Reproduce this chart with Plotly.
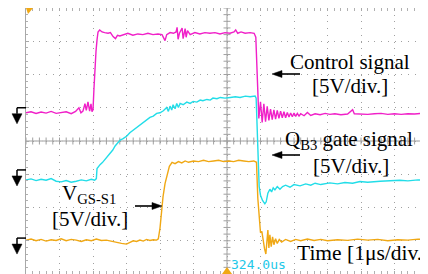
import numpy as np
import plotly.graph_objects as go

# ---------------- data (time in µs relative to trigger, signals in volts) ----------------
MAG_T = [-6.00, -5.85, -5.70, -5.55, -5.40, -5.25, -5.10, -4.95, -4.80, -4.65, -4.52, -4.42,
         -4.36, -4.30, -4.24, -4.20, -4.15, -4.10, -4.06, -4.03, -4.00, -3.97, -3.94, -3.91,
         -3.88, -3.85, -3.80, -3.73, -3.65, -3.55, -3.48, -3.40, -3.33, -3.27, -3.20, -3.10,
         -2.96, -2.81, -2.66, -2.51, -2.36, -2.21, -2.06, -1.94, -1.88, -1.85, -1.80, -1.70,
         -1.60, -1.52, -1.49, -1.46, -1.42, -1.38, -1.34, -1.31, -1.27, -1.25, -1.22, -1.18,
         -1.10, -0.96, -0.81, -0.66, -0.51, -0.36, -0.21, -0.06, 0.09, 0.21, 0.26, 0.32,
         0.42, 0.54, 0.69, 0.81, 0.86, 0.89, 0.92, 0.95, 1.00, 1.05, 1.10, 1.15, 1.20, 1.25,
         1.30, 1.35, 1.40, 1.45, 1.50, 1.55, 1.60, 1.65, 1.70, 1.75, 1.80, 1.85, 1.90, 1.95,
         2.00, 2.05, 2.10, 2.15, 2.20, 2.30, 2.40, 2.50, 2.63, 2.78, 2.93, 3.07, 3.22, 3.40,
         3.60, 3.75, 3.80, 4.00, 4.20, 4.40, 4.60, 4.80, 5.00, 5.20, 5.40, 5.60, 5.80, 6.00]
MAG_V = [-0.75, -0.60, -0.85, -0.65, -0.80, -0.55, -0.85, -0.70, -0.60, -0.90, -0.55, 0.00,
         -0.75, -0.50, 0.60, -0.40, 0.90, -0.50, 0.60, -0.60, -0.30, 3.00, 6.50, 8.50,
         10.2, 11.4, 11.7, 11.4, 11.3, 11.2, 11.3, 10.7, 10.4, 10.9, 10.8, 11.0,
         11.2, 10.9, 11.1, 11.0, 11.2, 11.0, 11.1, 11.0, 10.3, 10.1, 11.0, 11.3,
         11.2, 11.4, 12.1, 10.3, 11.2, 11.6, 12.0, 10.4, 11.3, 11.9, 10.6, 11.6,
         11.0, 11.3, 11.1, 11.3, 11.2, 11.3, 11.1, 11.3, 11.2, 11.4, 11.7, 11.2,
         11.4, 11.2, 11.3, 11.2, 10.6, 6.0, 1.5, -1.6, 0.9, -2.2, 0.6, -2.1, 0.2, -1.9,
         -0.2, -1.8, -0.3, -1.7, -0.4, -1.6, -0.5, -1.5, -0.6, -1.5, -0.7, -1.4, -0.8, -1.35,
         -0.8, -1.3, -0.85, -1.25, -0.9, -1.2, -0.7, -1.15, -0.9, -1.05, -0.85, -1.0, -0.9, -1.05,
         -0.95, -0.3, -0.9, -0.95, -1.0, -0.9, -0.85, -1.0, -0.9, -1.0, -0.9, -0.95, -0.85, -0.95]

CYA_T = [-6.00, -5.85, -5.70, -5.55, -5.40, -5.25, -5.10, -4.95, -4.80, -4.65, -4.50, -4.35,
         -4.20, -4.05, -3.95, -3.90, -3.88, -3.84, -3.79, -3.72, -3.64, -3.56, -3.49, -3.41,
         -3.34, -3.26, -3.19, -3.10, -2.99, -2.90, -2.80, -2.70, -2.60, -2.50, -2.40, -2.30,
         -2.20, -2.10, -2.00, -1.90, -1.80, -1.75, -1.70, -1.65, -1.61, -1.55, -1.50, -1.45,
         -1.40, -1.31, -1.20, -1.10, -1.01, -0.90, -0.80, -0.72, -0.60, -0.50, -0.42, -0.30,
         -0.20, -0.06, 0.10, 0.25, 0.39, 0.55, 0.69, 0.84, 0.87, 0.90, 0.93, 0.96, 1.00,
         1.06, 1.13, 1.17, 1.22, 1.28, 1.33, 1.38, 1.43, 1.50, 1.58, 1.66, 1.75, 1.88, 2.00,
         2.18, 2.35, 2.50, 2.63, 2.80, 3.07, 3.30, 3.52, 3.75, 3.97, 4.20, 4.57, 4.80, 5.16,
         5.40, 5.70, 6.00]
CYA_V = [-1.50, -1.35, -1.60, -1.40, -1.55, -1.30, -1.70, -1.80, -1.60, -1.85, -1.70, -1.50,
         -1.65, -1.40, -1.55, -1.30, 0.20, 0.50, 0.80, 1.10, 1.60, 2.00, 2.60, 3.00,
         3.60, 4.00, 4.50, 4.70, 5.10, 5.60, 6.00, 6.30, 6.80, 7.20, 7.60, 7.90,
         8.10, 8.50, 8.60, 8.90, 9.40, 8.80, 9.60, 9.00, 9.80, 9.20, 10.0, 9.40,
         10.0, 9.80, 10.2, 10.0, 10.3, 10.2, 10.5, 10.4, 10.6, 10.5, 10.8, 10.7,
         10.9, 10.8, 10.9, 11.0, 10.9, 11.1, 11.0, 11.1, 10.8, 5.0, 0.0, -2.5, -3.8,
         -4.6, -5.1, -4.8, -3.5, -2.9, -3.3, -2.7, -3.0, -2.5, -2.9, -2.5, -2.3, -2.6, -2.2,
         -2.4, -2.1, -2.3, -2.0, -2.2, -1.95, -2.1, -1.9, -2.0, -1.75, -1.85, -1.70, -1.60, -1.55,
         -1.65, -1.50, -1.55]

ORA_T = [-6.00, -5.85, -5.70, -5.55, -5.40, -5.25, -5.10, -4.95, -4.80, -4.65, -4.50, -4.35,
         -4.20, -4.05, -3.90, -3.75, -3.60, -3.45, -3.30, -3.15, -3.00, -2.90, -2.80, -2.70,
         -2.60, -2.50, -2.40, -2.30, -2.20, -2.10, -2.05, -2.00, -1.95, -1.91, -1.85, -1.79,
         -1.72, -1.64, -1.55, -1.45, -1.35, -1.25, -1.15, -1.00, -0.85, -0.70, -0.55, -0.40,
         -0.25, -0.10, 0.05, 0.20, 0.35, 0.50, 0.65, 0.80, 0.88, 0.92, 0.96, 1.00, 1.04,
         1.08, 1.12, 1.16, 1.19, 1.22, 1.25, 1.28, 1.32, 1.36, 1.40, 1.45, 1.50, 1.56, 1.63,
         1.75, 1.90, 2.05, 2.20, 2.40, 2.60, 2.80, 3.00, 3.30, 3.60, 3.90, 4.20, 4.50, 4.80,
         5.10, 5.40, 5.70, 6.00]
ORA_V = [-0.30, -0.15, -0.40, -0.20, -0.45, -0.25, -0.35, -0.10, -0.40, -0.20, -0.30, -0.50,
         -0.25, -0.40, -0.15, -0.35, -0.30, -0.50, -0.60, -0.80, -0.90, -0.60, -0.40, -0.50,
         -0.30, -0.45, -0.20, -0.35, -0.25, -0.30, -0.10, 1.50, 4.50, 6.20, 8.20, 9.60,
         10.8, 11.4, 11.2, 11.5, 11.3, 11.6, 11.4, 11.6, 11.5, 11.7, 11.5, 11.6,
         11.7, 11.5, 11.6, 11.5, 11.7, 11.6, 11.5, 11.6, 11.4, 6.0, 2.7, 0.8, 1.0,
         -0.8, -1.6, -2.4, -0.5, 1.2, -1.5, 0.5, -1.3, 0.2, -1.0, -0.1, -0.8, -0.2, -0.6,
         -0.2, -0.5, -0.2, -0.4, -0.15, -0.35, -0.2, -0.4, -0.25, -0.35, -0.15, -0.3, -0.2, -0.4,
         -0.25, -0.3, -0.15, -0.3]

assert len(MAG_T) == len(MAG_V)
assert len(CYA_T) == len(CYA_V)
assert len(ORA_T) == len(ORA_V)

LABEL_CTRL = "Control signal"
LABEL_QB3 = "Q<sub>B3</sub> gate signal"
LABEL_VGS = "V<sub>GS-S1</sub>"
LABEL_SCALE = "[5V/div.]"
LABEL_TIME = "Time [1μs/div.]"
LABEL_DELAY = "324.0us"

# ---------------- scope settings ----------------
VOLTS_PER_DIV = 5.0
N_HDIV, N_VDIV = 12, 8
MAG_GND_DIV = 5.0    # ground marker position (div from bottom)
CYA_GND_DIV = 3.13
ORA_GND_DIV = 1.08

MAG_COLOR = "#f020c8"
CYA_COLOR = "#22dde8"
ORA_COLOR = "#f0a814"
GRID_COLOR = "#a0a0a0"

# the page body has an 8px default margin, so the figure starts at (8, 8)
W, H = 420, 266
ML, MR, MT, MB = 18, 0, 0, 0
PW, PH = W - ML - MR, H - MT - MB

def ch_range(gnd):
    return [-gnd * VOLTS_PER_DIV, (N_VDIV - gnd) * VOLTS_PER_DIV]

fig = go.Figure()

# graticule centre-line tick crosses
gx = np.arange(-6, 6.001, 0.2)
gy = np.arange(-4, 4.001, 0.2)
fig.add_trace(go.Scatter(x=gx, y=np.zeros_like(gx), mode="markers", hoverinfo="skip",
                         marker=dict(symbol="cross-thin", size=5, line=dict(color=GRID_COLOR, width=1))))
fig.add_trace(go.Scatter(x=np.zeros_like(gy), y=gy, mode="markers", hoverinfo="skip",
                         marker=dict(symbol="cross-thin", size=5, line=dict(color=GRID_COLOR, width=1))))

fig.add_trace(go.Scatter(x=MAG_T, y=MAG_V, mode="lines", yaxis="y2",
                         line=dict(color=MAG_COLOR, width=1.4)))
fig.add_trace(go.Scatter(x=CYA_T, y=CYA_V, mode="lines", yaxis="y3",
                         line=dict(color=CYA_COLOR, width=1.4)))
fig.add_trace(go.Scatter(x=ORA_T, y=ORA_V, mode="lines", yaxis="y4",
                         line=dict(color=ORA_COLOR, width=1.4)))

ax_common = dict(showgrid=True, gridcolor=GRID_COLOR, gridwidth=1, griddash="1px,5.7px",
                 zeroline=False, showticklabels=False, showline=True, linecolor="#a8a8a8",
                 linewidth=1, mirror="allticks", ticks="inside", ticklen=3, tickcolor="#a8a8a8",
                 minor=dict(ticks="inside", dtick=0.2, ticklen=2, tickcolor="#b0b0b0", showgrid=False),
                 fixedrange=True)

fig.update_layout(
    width=W, height=H, margin=dict(l=ML, r=MR, t=MT, b=MB, autoexpand=False),
    paper_bgcolor="white", plot_bgcolor="white", showlegend=False,
    xaxis=dict(range=[-6, 6], dtick=1, **ax_common),
    yaxis=dict(range=[-4, 4], dtick=1, **ax_common),
    yaxis2=dict(overlaying="y", anchor="x", range=ch_range(MAG_GND_DIV), visible=False),
    yaxis3=dict(overlaying="y", anchor="x", range=ch_range(CYA_GND_DIV), visible=False),
    yaxis4=dict(overlaying="y", anchor="x", range=ch_range(ORA_GND_DIV), visible=False),
)

shapes = []
def px2paper(px, py):
    """reference-image pixel -> paper coords (plot area spans x 26..428, y 8..274)."""
    return (px - 26) / PW, (274 - py) / PH

# ground markers (left margin)
sx = -9 / PW
for gnd in (MAG_GND_DIV, CYA_GND_DIV, ORA_GND_DIV):
    gp = gnd / N_VDIV
    shapes.append(dict(type="line", xref="paper", yref="paper", x0=sx, x1=0, y0=gp, y1=gp,
                       line=dict(color="black", width=1.5)))
    shapes.append(dict(type="line", xref="paper", yref="paper", x0=sx, x1=sx, y0=gp, y1=gp - 6 / PH,
                       line=dict(color="black", width=1.5)))
    shapes.append(dict(type="path", xref="paper", yref="paper",
                       path=f"M {sx - 5 / PW} {gp - 6 / PH} L {sx + 5 / PW} {gp - 6 / PH} L {sx} {gp - 16 / PH} Z",
                       fillcolor="black", line=dict(color="black", width=0.5)))

# trigger markers (orange)
shapes.append(dict(type="path", xref="paper", yref="paper",
                   path=f"M 0 1 L {7 / PW} 1 L {2 / PW} {1 - 6 / PH} Z",
                   fillcolor=ORA_COLOR, line=dict(width=0)))
shapes.append(dict(type="path", xref="paper", yref="paper",
                   path=f"M {0.5 - 5 / PW} 0 L {0.5 + 5 / PW} 0 L 0.5 {7 / PH} Z",
                   fillcolor=ORA_COLOR, line=dict(width=0)))
_, ty = px2paper(0, 161)
shapes.append(dict(type="path", xref="paper", yref="paper",
                   path=f"M 1 {ty - 4 / PH} L 1 {ty + 4 / PH} L {1 - 6 / PW} {ty} Z",
                   fillcolor=ORA_COLOR, line=dict(width=0)))

# pointer arrows (tail -> head, reference pixels)
def arrow(tail, head):
    x0, y0 = px2paper(*tail)
    x1, y1 = px2paper(*head)
    d = 1 if head[0] > tail[0] else -1
    hx0, _ = px2paper(head[0] - d * 10, head[1])
    shapes.append(dict(type="line", xref="paper", yref="paper", x0=x0, y0=y0, x1=hx0, y1=y1,
                       line=dict(color="black", width=1.6)))
    shapes.append(dict(type="path", xref="paper", yref="paper",
                       path=f"M {x1} {y1} L {hx0} {y1 + 3.5 / PH} L {hx0} {y1 - 3.5 / PH} Z",
                       fillcolor="black", line=dict(color="black", width=0.5)))

arrow((300, 74), (272, 74))
arrow((300, 155), (272, 155))
arrow((135, 206), (162, 206))
fig.update_layout(shapes=shapes)

FONT = dict(family="Liberation Serif, Times New Roman, serif", size=21, color="black")
def label(text, x, y, font=FONT):
    fig.add_annotation(text=text, x=x, y=y, xref="x", yref="y", showarrow=False,
                       xanchor="center", yanchor="middle", font=font)

label(LABEL_CTRL, 3.67, 2.39)
label(LABEL_SCALE, 3.67, 1.64)

label(LABEL_QB3, 3.64, 0.02)
label(LABEL_SCALE, 3.70, -0.74)

label(LABEL_VGS, -4.12, -1.60)
label(LABEL_SCALE, -4.09, -2.36)

label(LABEL_TIME, 4.06, -3.38,
      font=dict(family="Liberation Serif, Times New Roman, serif", size=21.5, color="black"))
label(LABEL_DELAY, 0.955, -3.70,
      font=dict(family="DejaVu Sans Mono, monospace", size=13, color="#22c8e8"))

fig.write_html("out.html")
